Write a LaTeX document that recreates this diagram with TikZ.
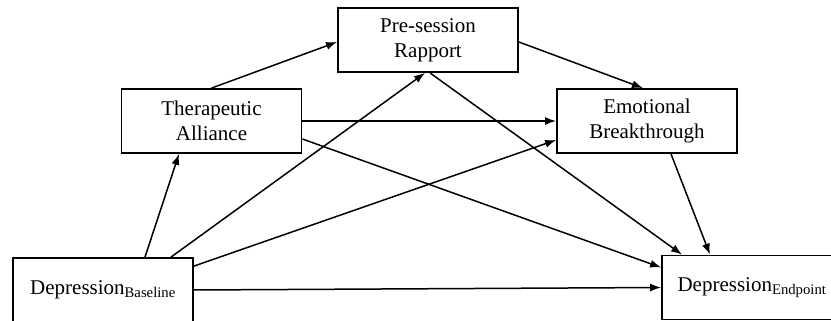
\documentclass[tikz,border=0pt]{standalone}
\usepackage{fontspec}
\setmainfont{Liberation Serif}
\usetikzlibrary{arrows.meta}

\begin{document}
\begin{tikzpicture} [x = 1pt, y = -1pt, line width = 1.5pt,
  >= {Latex[length = 11pt, width = 8pt]},
  box/.style = {draw, line width = 1.8pt, align = center, inner sep = 2pt,
    minimum width = 180pt, minimum height = 64pt,
    font = \fontsize{21}{25}\selectfont}]
\clip (0,0) rectangle (831,321);
\node[box] (pre) at (428,40) {Pre-session\\Rapport};
\node[box] (ta) at (211.5,121) {Therapeutic\\Alliance};
\node[box] (eb) at (647,121) {Emotional\\Breakthrough};
\node[box] (base) at (103,290) {Depression\textsubscript{Baseline}};
\node[box] (end) at (752,287.5) {Depression\textsubscript{Endpoint}};
\draw [->] ([xshift = 42pt]base.north) -- ([xshift = -32.5pt]ta.south);
\draw [->] ([xshift = 68pt]base.north) -- ([xshift = -3pt]pre.south);
\draw [->] ([yshift = -9pt]base.north east) -- ([yshift = -19pt]eb.west);
\draw [->] (base.east) -- (end.west);
\draw [->] (ta.north) -- ([yshift = -2pt]pre.west);
\draw [->] (ta.east) -- (eb.west);
\draw [->] ([yshift = -18pt]ta.east) -- ([yshift = 20pt]end.west);
\draw [->] ([xshift = 2pt]pre.south) -- ([xshift = -70pt]end.north);
\draw [->] ([yshift = -2pt]pre.east) -- ([xshift = -4pt]eb.north);
\draw [->] ([xshift = 24pt]eb.south) -- ([xshift = -42pt]end.north);
\end{tikzpicture}
\end{document}
